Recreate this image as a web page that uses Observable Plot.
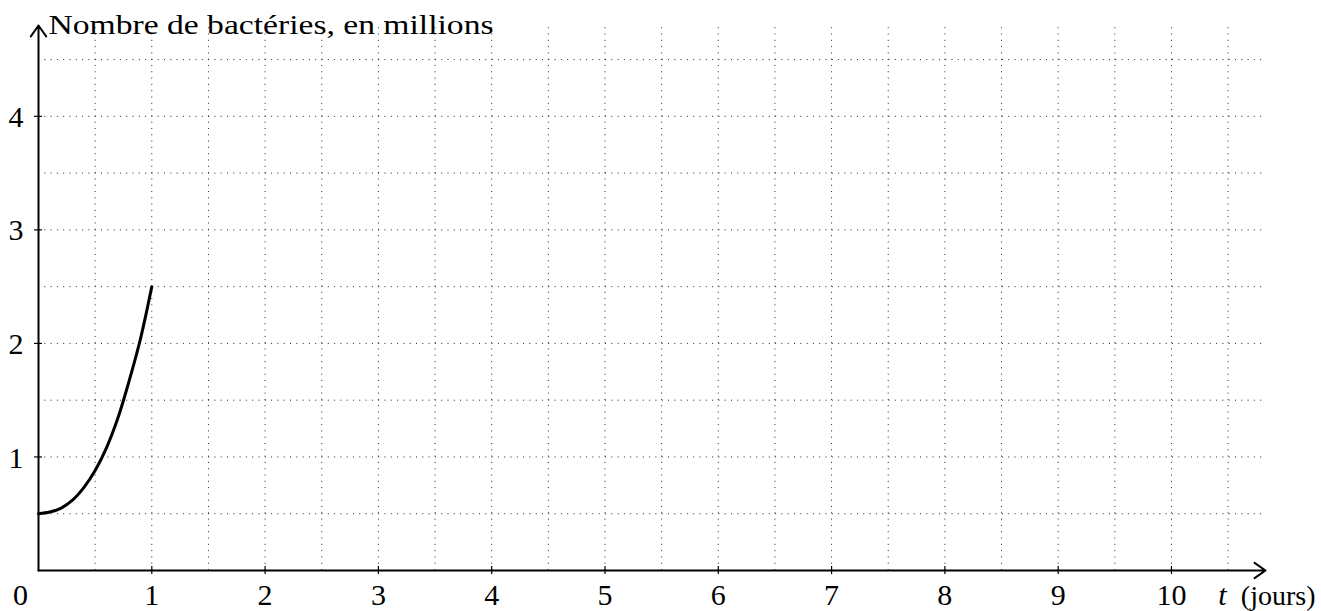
<!DOCTYPE html>
<html>
<head>
<meta charset="utf-8">
<script src="https://cdn.jsdelivr.net/npm/d3@7"></script>
<script src="https://cdn.jsdelivr.net/npm/@observablehq/plot@0.6"></script>
<style>
  html, body { margin: 0; padding: 0; background: #fff; }
  #chart svg { display: block; }
  #chart svg text { font-family: "Liberation Serif", "DejaVu Serif", serif; }
</style>
</head>
<body>
<div id="chart"></div>
<script>
// ---- data ----
const tValues = [0, 0.1, 0.2, 0.3, 0.4, 0.5, 0.6, 0.7, 0.8, 0.9, 1];
const nValues = [0.5, 0.515, 0.55, 0.62, 0.73, 0.88, 1.08, 1.34, 1.67, 2.04, 2.5];
const xTicks = [0, 1, 2, 3, 4, 5, 6, 7, 8, 9, 10];
const yTicks = [1, 2, 3, 4];
const xGrid = [0.5, 1, 1.5, 2, 2.5, 3, 3.5, 4, 4.5, 5, 5.5, 6, 6.5, 7, 7.5, 8, 8.5, 9, 9.5, 10, 10.5];
const yGrid = [0.5, 1, 1.5, 2, 2.5, 3, 3.5, 4, 4.5];
const xMax = 10.83;
const yMax = 4.8;
const gridXEnd = 10.8;
const gridYEnd = 4.78;
const yTitle = "Nombre de bactéries, en millions";
const xTitleVar = "t";
const xTitleUnit = "(jours)";

const curve = tValues.map((t, i) => ({t, n: nValues[i]}));
const font = "Liberation Serif";
const dash = "1,5.3";
const tk = 0.035;

const chart = Plot.plot({
  width: 1321,
  height: 611,
  marginLeft: 38,
  marginRight: 56,
  marginTop: 25,
  marginBottom: 41,
  x: {domain: [0, xMax], axis: null},
  y: {domain: [0, yMax], axis: null},
  style: {fontFamily: font, background: "#fff", overflow: "visible"},
  marks: [
    Plot.ruleX(xGrid, {x: d => d, y1: 0, y2: gridYEnd, stroke: "#222", strokeWidth: 1, strokeDasharray: dash}),
    Plot.ruleY(yGrid, {y: d => d, x1: 0, x2: gridXEnd, stroke: "#222", strokeWidth: 1, strokeDasharray: dash}),
    Plot.ruleX(xTicks.filter(d => d > 0), {x: d => d, y1: -tk, y2: tk, stroke: "#000", strokeWidth: 1.2}),
    Plot.ruleY(yTicks, {y: d => d, x1: -tk, x2: tk, stroke: "#000", strokeWidth: 1.2}),
    Plot.arrow([{x1: 0, y1: 0, x2: xMax, y2: 0}], {x1: "x1", y1: "y1", x2: "x2", y2: "y2", stroke: "#000", strokeWidth: 2, headLength: 10, headAngle: 70}),
    Plot.arrow([{x1: 0, y1: 0, x2: 0, y2: yMax}], {x1: "x1", y1: "y1", x2: "x2", y2: "y2", stroke: "#000", strokeWidth: 2, headLength: 10, headAngle: 70}),
    Plot.line(curve, {x: "t", y: "n", stroke: "#000", strokeWidth: 3, curve: "catmull-rom"}),
    Plot.text(xTicks.filter(d => d > 0), {x: d => d, y: 0, text: d => String(d), dy: 34, lineAnchor: "bottom", fontSize: 30, fontFamily: font, fill: "#000"}),
    Plot.text([0], {x: d => d, y: 0, text: d => String(d), dx: -18, dy: 34, lineAnchor: "bottom", fontSize: 30, fontFamily: font, fill: "#000"}),
    Plot.text(yTicks, {x: 0, y: d => d, text: d => String(d), textAnchor: "end", dx: -15, dy: 1, fontSize: 30, fontFamily: font, fill: "#000"}),
    Plot.text([yTitle], {x: 0, y: yMax, text: d => d, textAnchor: "start", lineAnchor: "bottom", dx: 10, dy: 8, fontSize: 28, fontFamily: font, fill: "#000", className: "ytitle"}),
    Plot.text([xTitleVar], {x: xMax, y: 0, text: d => d, textAnchor: "middle", lineAnchor: "bottom", dx: -43, dy: 34, fontSize: 30, fontFamily: font, fontStyle: "italic", fill: "#000"}),
    Plot.text([xTitleUnit], {x: xMax, y: 0, text: d => d, textAnchor: "end", lineAnchor: "bottom", dx: 50, dy: 34, fontSize: 28, fontFamily: font, fill: "#000"})
  ]
});
document.getElementById("chart").appendChild(chart);
// match the title width of the reference
d3.select(chart).selectAll(".ytitle text").attr("textLength", 445).attr("lengthAdjust", "spacingAndGlyphs");
</script>
</body>
</html>
